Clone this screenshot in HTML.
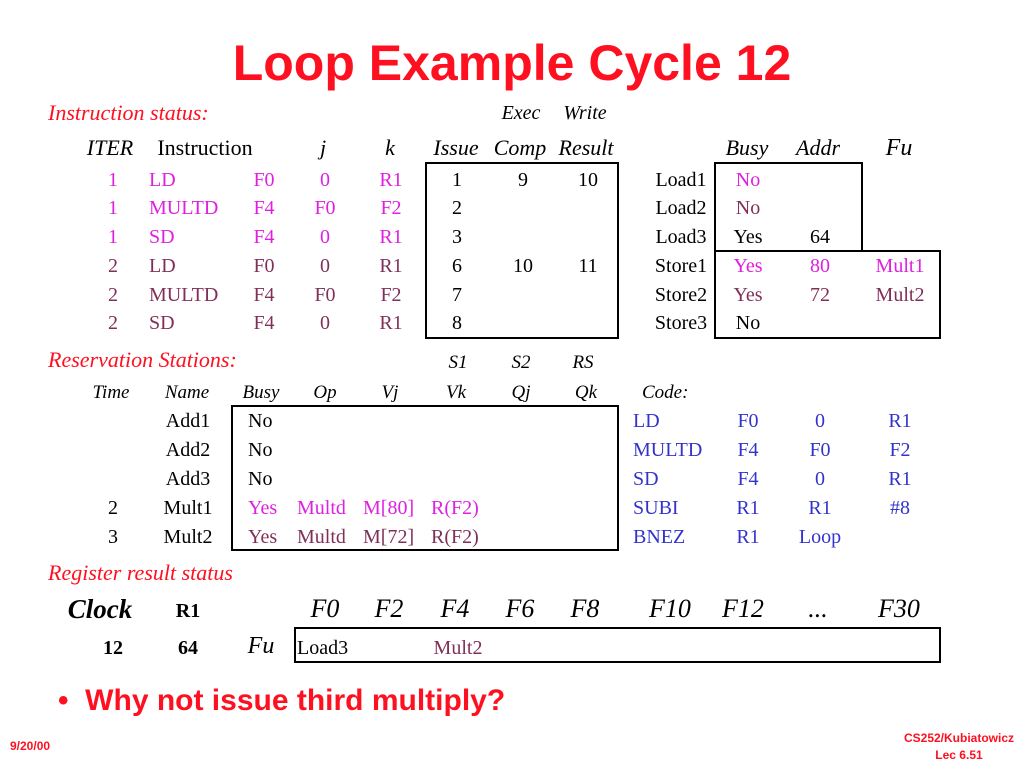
<!DOCTYPE html>
<html><head><meta charset="utf-8"><style>
html,body{margin:0;padding:0;background:#fff;}
#slide{position:relative;width:1024px;height:768px;overflow:hidden;background:#fff;font-family:"Liberation Serif",serif;}
.t{position:absolute;white-space:nowrap;line-height:1;font-size:20px;color:#000;}
.box{position:absolute;border:2px solid #000;box-sizing:border-box;}
.i{font-style:italic;}
.red{color:#ff1020;}
.mg{color:#e020e0;}
.mv{color:#803058;}
.bl{color:#3333cc;}
</style></head><body>
<div id="slide">
<div class="t red" style="left:0;width:1024px;text-align:center;top:34px;font:bold 50px 'Liberation Sans',sans-serif;color:#ff1020;">Loop Example Cycle 12</div>
<div class="box" style="left:425px;top:162px;width:194px;height:177px;"></div>
<div class="box" style="left:714px;top:162px;width:149px;height:90px;"></div>
<div class="box" style="left:714px;top:250px;width:227px;height:89px;"></div>
<div class="box" style="left:231px;top:405px;width:388px;height:146px;"></div>
<div class="box" style="left:294px;top:627px;width:647px;height:36px;"></div>
<div class="t red" style="left:58px;top:684px;font:bold 30px 'Liberation Sans',sans-serif;color:#ff1020;">•&nbsp;&nbsp;Why not issue third multiply?</div>
<div class="t red" style="left:10px;top:739px;font:bold 12px 'Liberation Sans',sans-serif;">9/20/00</div>
<div class="t red" style="right:10px;top:730px;text-align:center;font:bold 12px 'Liberation Sans',sans-serif;line-height:17px;">CS252/Kubiatowicz<br>Lec 6.51</div>
</div>
<script>
// [text, x, centerY, align(c/l), class, size]
const items = [
 ["Instruction status:",48,113,"l","i red",22],
 ["Exec",521,113,"c","i",20],["Write",585,113,"c","i",20],
 ["ITER",110,148,"c","i",22],["Instruction",205,148,"c","",22],["j",323,148,"c","i",22],["k",390,148,"c","i",22],
 ["Issue",456,148,"c","i",22],["Comp",520,148,"c","i",22],["Result",586,148,"c","i",22],
 ["Busy",747,148,"c","i",22],["Addr",818,148,"c","i",22],["Fu",899,148,"c","i",24],
 ["Reservation Stations:",48,360,"l","i red",22],["S1",458,362,"c","i",19],["S2",521,362,"c","i",19],["RS",583,362,"c","i",19],
 ["Time",111,392,"c","i",19],["Name",187,392,"c","i",19],["Busy",261,392,"c","i",19],["Op",325,392,"c","i",19],["Vj",390,392,"c","i",19],
 ["Vk",456,392,"c","i",19],["Qj",521,392,"c","i",19],["Qk",586,392,"c","i",19],["Code:",642,392,"l","i",19],
 ["Register result status",48,573,"l","i red",22],
 ["Clock",100,609,"c","i b",27],["R1",188,611,"c","b",20],
 ["12",113,648,"c","b",20],["64",188,648,"c","b",20],["Fu",261,646,"c","i",24],
 ["Load3",297,648,"l","",20],["Mult2",458,648,"c","mv",20]
];
const instRowsY = [180,208,237,266,295,323];
const instIter = ["1","1","1","2","2","2"];
const instOp = ["LD","MULTD","SD","LD","MULTD","SD"];
const instDst = ["F0","F4","F4","F0","F4","F4"];
const instJ = ["0","F0","0","0","F0","0"];
const instK = ["R1","F2","R1","R1","F2","R1"];
const instIssue = ["1","2","3","6","7","8"];
const instComp = ["9","","","10","",""];
const instResult = ["10","","","11","",""];
const bufNames = ["Load1","Load2","Load3","Store1","Store2","Store3"];
const bufBusy = ["No","No","Yes","Yes","Yes","No"];
const bufAddr = ["","","64","80","72",""];
const bufFu = ["","","","Mult1","Mult2",""];
const bufCls = ["mg","mv","","mg","mv",""];
const rsRowsY = [421,450,479,508,537];
const rsTime = ["","","","2","3"];
const rsName = ["Add1","Add2","Add3","Mult1","Mult2"];
const rsBusy = ["No","No","No","Yes","Yes"];
const rsOp = ["","","","Multd","Multd"];
const rsVj = ["","","","M[80]","M[72]"];
const rsVk = ["","","","R(F2)","R(F2)"];
const rsCls = ["","","","mg","mv"];
const code = [["LD","F0","0","R1"],["MULTD","F4","F0","F2"],["SD","F4","0","R1"],["SUBI","R1","R1","#8"],["BNEZ","R1","Loop",""]];
const regNames = ["F0","F2","F4","F6","F8","F10","F12","...","F30"];
const regX = [325,389,455,520,585,670,743,818,899];

for (let r=0;r<6;r++){
  const y=instRowsY[r], c=r<3?"mg":"mv";
  items.push([instIter[r],113,y,"c",c,20],[instOp[r],149,y,"l",c,20],[instDst[r],264,y,"c",c,20],[instJ[r],325,y,"c",c,20],[instK[r],391,y,"c",c,20]);
  items.push([instIssue[r],457,y,"c","",20],[instComp[r],523,y,"c","",20],[instResult[r],588,y,"c","",20]);
  items.push([bufNames[r],681,y,"c","",20],[bufBusy[r],748,y,"c",bufCls[r],20],[bufAddr[r],820,y,"c",bufCls[r],20],[bufFu[r],900,y,"c",bufCls[r],20]);
}
for (let r=0;r<5;r++){
  const y=rsRowsY[r];
  items.push([rsTime[r],113,y,"c","",20],[rsName[r],188,y,"c","",20],[rsBusy[r],248,y,"l",rsCls[r],20],[rsOp[r],297,y,"l",rsCls[r],20],[rsVj[r],363,y,"l",rsCls[r],20],[rsVk[r],431,y,"l",rsCls[r],20]);
  items.push([code[r][0],633,y,"l","bl",20],[code[r][1],748,y,"c","bl",20],[code[r][2],820,y,"c","bl",20],[code[r][3],900,y,"c","bl",20]);
}
for (let i=0;i<regNames.length;i++) items.push([regNames[i],regX[i],609,"c","i",26]);

const slide=document.getElementById('slide');
for (const it of items){
  if(!it[0]) continue;
  const el=document.createElement('div');
  
  
  el.className='t '+it[4].replace(/\bb\b/,'');
  if (/\bb\b/.test(it[4])) el.style.fontWeight='bold';
  el.style.fontSize=it[5]+'px';
  el.textContent=it[0];
  el.style.top=(it[2]-it[5]*0.5)+'px';
  if(it[3]==='c'){el.style.left=(it[1]-100)+'px';el.style.width='200px';el.style.textAlign='center';}
  else el.style.left=it[1]+'px';
  slide.appendChild(el);
}
</script>
</body></html>
